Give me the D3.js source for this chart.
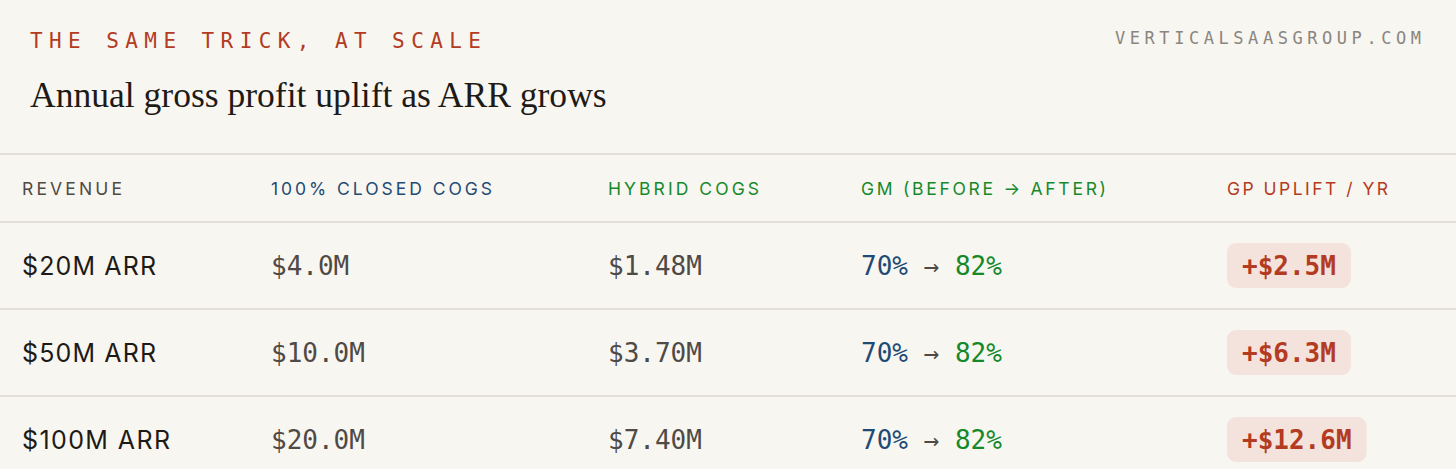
<!DOCTYPE html>
<html>
<head>
<meta charset="utf-8">
<script src="https://cdn.jsdelivr.net/npm/d3@7"></script>
<style>
  html, body { margin: 0; padding: 0; background: #f8f6f1; }
  svg { display: block; }
</style>
</head>
<body>
<svg id="chart" width="1456" height="469"></svg>
<script>
// ---- data ----
const eyebrow = "THE SAME TRICK, AT SCALE";
const title = "Annual gross profit uplift as ARR grows";
const source = "VERTICALSAASGROUP.COM";
const columns = ["REVENUE", "100% CLOSED COGS", "HYBRID COGS", "GM (BEFORE \u2192 AFTER)", "GP UPLIFT / YR"];
const revenue = ["$20M ARR", "$50M ARR", "$100M ARR"];
const closedCogs = [4.0, 10.0, 20.0];
const hybridCogs = [1.48, 3.70, 7.40];
const gmBefore = [70, 70, 70];
const gmAfter = [82, 82, 82];
const gpUplift = [2.5, 6.3, 12.6];

// ---- layout / style ----
const W = 1456, H = 469;
const C = {
  bg: "#f8f6f1", red: "#b33b22", navy: "#1f4a75", green: "#15892a",
  ink: "#1e1a16", gray: "#4f4a45", muted: "#8a8580", rule: "#e3dfd8", badge: "#f3e3dc"
};
const mono = "'DejaVu Sans Mono', 'Liberation Mono', monospace";
const sans = "Inter, 'Noto Sans', sans-serif";
const serif = "'Liberation Serif', 'DejaVu Serif', serif";
const colColors = [C.gray, C.navy, C.green, C.green, C.red];

const svg = d3.select("#chart");
svg.append("rect").attr("width", W).attr("height", H).attr("fill", C.bg);

const x = d3.scaleOrdinal().domain(d3.range(columns.length)).range([22, 271, 608, 861, 1227]);
const y = d3.scaleBand().domain(d3.range(revenue.length)).range([222, 222 + 87 * 3]);

function fitSpacing(sel, target) {
  const n = sel.text().length;
  sel.attr("letter-spacing", 0);
  const w0 = sel.node().getComputedTextLength();
  sel.attr("letter-spacing", (target - w0) / (n - 1));
}
function fitSize(sel, target, base) {
  const w = sel.node().getComputedTextLength();
  sel.attr("font-size", base * target / w);
}

// eyebrow
const eb = svg.append("text").attr("x", 30).attr("y", 48)
  .attr("font-family", mono).attr("font-size", 21).attr("fill", C.red).text(eyebrow);
fitSpacing(eb, 451);

// source
const src = svg.append("text").attr("x", 1115).attr("y", 44)
  .attr("font-family", mono).attr("font-size", 17).attr("fill", C.muted).text(source);
fitSpacing(src, 306);

// title
const tt = svg.append("text").attr("x", 30).attr("y", 107)
  .attr("font-family", serif).attr("font-size", 36).attr("fill", C.ink).text(title);
fitSize(tt, 577, 36);

// rules
const rules = [154, 222].concat(d3.range(1, revenue.length).map(i => y(i)));
svg.selectAll("line.rule").data(rules).join("line")
  .attr("class", "rule").attr("x1", 0).attr("x2", W)
  .attr("y1", d => d).attr("y2", d => d)
  .attr("stroke", C.rule).attr("stroke-width", 2);

// header
const headerWidths = [100, 221, 151, 245, 161];
svg.selectAll("text.head").data(columns).join("text")
  .attr("class", "head")
  .attr("x", (d, i) => x(i)).attr("y", 194.5)
  .attr("font-family", sans).attr("font-size", 17.5).attr("font-weight", 400)
  .attr("fill", (d, i) => colColors[i]).text(d => d)
  .each(function (d, i) { fitSpacing(d3.select(this), headerWidths[i]); });

// rows
const rows = svg.selectAll("g.row").data(revenue.map((r, i) => ({
  r, closed: closedCogs[i], hybrid: hybridCogs[i], before: gmBefore[i], after: gmAfter[i], up: gpUplift[i]
}))).join("g").attr("class", "row")
  .attr("transform", (d, i) => `translate(0,${y(i) + y.bandwidth() / 2})`);

const revWidths = [134, 134, 148];
rows.append("text").attr("x", x(0)).attr("y", 9.5)
  .attr("font-family", sans).attr("font-size", 25).attr("font-weight", 400).attr("fill", C.ink)
  .text(d => d.r)
  .each(function (d, i) { fitSpacing(d3.select(this), revWidths[i]); });

const mfs = 26;
rows.append("text").attr("x", x(1)).attr("y", 9.5)
  .attr("font-family", mono).attr("font-size", mfs).attr("fill", C.gray)
  .text(d => "$" + d3.format(".1f")(d.closed) + "M");

rows.append("text").attr("x", x(2)).attr("y", 9.5)
  .attr("font-family", mono).attr("font-size", mfs).attr("fill", C.gray)
  .text(d => "$" + d3.format(".2f")(d.hybrid) + "M");

const gm = rows.append("text").attr("x", x(3)).attr("y", 9.5)
  .attr("font-family", mono).attr("font-size", mfs);
gm.append("tspan").attr("fill", C.navy).text(d => d.before + "%");
gm.append("tspan").attr("fill", C.gray).text(" \u2192 ");
gm.append("tspan").attr("fill", C.green).text(d => d.after + "%");

const badge = rows.append("g");
badge.append("text").attr("x", x(4) + 15).attr("y", 9.5)
  .attr("font-family", mono).attr("font-size", mfs).attr("font-weight", 700)
  .attr("fill", C.red).text(d => "+$" + d3.format(".1f")(d.up) + "M");
badge.insert("rect", "text")
  .attr("x", x(4)).attr("y", -22.5).attr("height", 45).attr("rx", 9)
  .attr("width", function () { return this.parentNode.querySelector("text").getComputedTextLength() + 30; })
  .attr("fill", C.badge);
</script>
</body>
</html>
